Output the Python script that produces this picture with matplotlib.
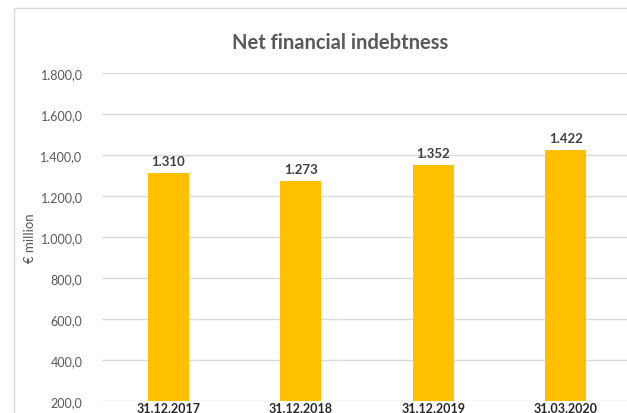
import matplotlib.pyplot as plt
from matplotlib.patches import Rectangle

# net financial indebtedness, EUR million
periods = ['31.12.2017', '31.12.2018', '31.12.2019', '31.03.2020']
debt = [1310, 1273, 1352, 1422]
debt_labels = ['1.310', '1.273', '1.352', '1.422']
yticks = [200, 400, 600, 800, 1000, 1200, 1400, 1600, 1800]
ytick_labels = ['200,0', '400,0', '600,0', '800,0', '1.000,0',
                '1.200,0', '1.400,0', '1.600,0', '1.800,0']

plt.rcParams['font.family'] = ['Lato', 'DejaVu Sans']

W, H = 627, 414
fig = plt.figure(figsize=(W / 100, H / 100), dpi=100)

# outer chart frame, runs off the right and bottom edges
fig.patches.append(Rectangle((14 / W, -0.1), 1.2, 1 - 9 / H + 0.1,
                             transform=fig.transFigure, fill=False,
                             edgecolor='#D9D9D9', linewidth=1))

ax = fig.add_axes([102 / W, 12 / H, 530 / W, 328 / H])

x = range(len(periods))
bars = ax.bar(x, debt, width=0.31, color='#FFC000', zorder=2)
for b, lab in zip(bars, debt_labels):
    ax.text(b.get_x() + b.get_width() / 2, b.get_height() + 30, lab,
            ha='center', va='bottom', fontsize=9.5, fontweight='bold',
            color='#404040')

ax.set_xlim(-0.5, len(periods) - 0.5)
ax.set_ylim(200, 1800)
ax.set_yticks(yticks)
ax.set_yticklabels(ytick_labels, fontsize=9, color='#595959')
ax.set_xticks(list(x))
ax.set_xticklabels(periods, fontsize=9, fontweight='bold', color='#262626')
ax.tick_params(axis='both', length=0)
ax.tick_params(axis='y', pad=14)
ax.tick_params(axis='x', pad=1)
ax.grid(axis='y', color='#D9D9D9', linewidth=1, zorder=0)
for s in ax.spines.values():
    s.set_visible(False)

ax.set_ylabel('€ million', fontsize=9.5, color='#595959', labelpad=3)

fig.text(340 / W, 1 - 43 / H, 'Net financial indebtness', ha='center',
         va='center', fontsize=14.5, fontweight='bold', color='#595959')

fig.savefig('out.png', dpi=100)
